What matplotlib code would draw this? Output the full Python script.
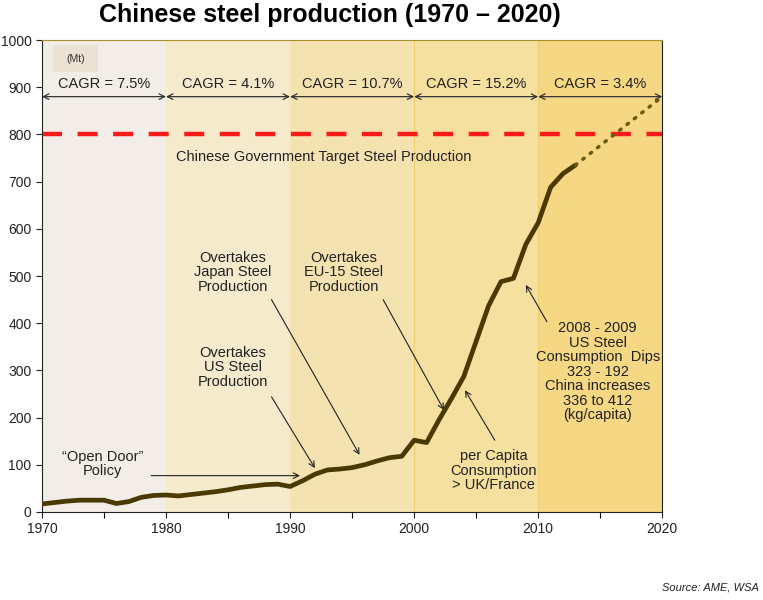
import matplotlib
matplotlib.use('Agg')
import matplotlib.pyplot as plt
from matplotlib.ticker import MultipleLocator

plt.rcParams['font.family'] = ['Liberation Sans', 'DejaVu Sans']

# data (Mt)
years = list(range(1970, 2014))
prod = [17, 20, 23, 25, 25, 25, 18, 22, 31, 35,
        36, 34, 37, 40, 43, 47, 52, 55, 58, 59,
        54, 66, 80, 89, 91, 94, 100, 108, 115, 118,
        152, 147, 195, 240, 287, 362, 437, 488, 495, 567,
        613, 688, 717, 735]
proj_years = [2013, 2020]
proj_vals = [735, 880]
target = 800

decades = [(1970, 1980), (1980, 1990), (1990, 2000), (2000, 2010), (2010, 2020)]
decade_cols = ['#f2ede6', '#f5eacc', '#f4e3b0', '#f6e0a0', '#f5d784']
cagr = ['7.5%', '4.1%', '10.7%', '15.2%', '3.4%']

fig = plt.figure(figsize=(7.63, 6.0), dpi=100)
ax = fig.add_axes([0.055, 0.1467, 0.813, 0.7866])

for (a, b), c in zip(decades, decade_cols):
    ax.axvspan(a, b, color=c, lw=0, zorder=0)
for x in [2000, 2010]:
    ax.axvline(x, color='#f0cf70', lw=0.8, zorder=0.5)

# (Mt) box
ax.add_patch(plt.Rectangle((1970.9, 932), 3.6, 57, color='#ebe2d3', lw=0, zorder=1))
ax.text(1972.7, 960, '(Mt)', ha='center', va='center', fontsize=7.5, color='#333333')

ax.axhline(target, color='#ff1a1a', lw=3.2, dashes=(4.5, 3.5), zorder=2)
ax.text(1992.7, 752, 'Chinese Government Target Steel Production', ha='center', va='center',
        fontsize=10.5, color='#222222')

for (a, b), g in zip(decades, cagr):
    ax.annotate('', xy=(a, 880), xytext=(b, 880),
                arrowprops=dict(arrowstyle='<->', color='#333333', lw=0.9,
                                shrinkA=0, shrinkB=0), zorder=3)
    ax.text((a + b) / 2, 907, 'CAGR = ' + g, ha='center', va='center', fontsize=10.5, color='#222222')

ax.plot(years, prod, color='#4a3a02', lw=3.4, solid_capstyle='round', solid_joinstyle='round', zorder=4)
ax.plot(proj_years, proj_vals, color='#6b5a12', lw=2.5, ls=(0, (0.5, 2.2)), dash_capstyle='round', zorder=4)

arr = dict(arrowstyle='->', color='#222222', lw=0.8, shrinkA=0, shrinkB=0)
ax.annotate('', xy=(1995.6, 121), xytext=(1988.5, 450), arrowprops=arr)
ax.text(1985.4, 508, 'Overtakes\nJapan Steel\nProduction', ha='center', va='center', fontsize=10.5,
        linespacing=1.05, color='#222222')
ax.annotate('', xy=(1992.0, 93), xytext=(1988.5, 244), arrowprops=arr)
ax.text(1985.4, 307, 'Overtakes\nUS Steel\nProduction', ha='center', va='center', fontsize=10.5,
        linespacing=1.05, color='#222222')
ax.annotate('', xy=(2002.4, 216), xytext=(1997.5, 450), arrowprops=arr)
ax.text(1994.3, 508, 'Overtakes\nEU-15 Steel\nProduction', ha='center', va='center', fontsize=10.5,
        linespacing=1.05, color='#222222')
ax.annotate('', xy=(2004.1, 258), xytext=(2006.5, 152), arrowprops=arr)
ax.text(2006.4, 87, 'per Capita\nConsumption\n> UK/France', ha='center', va='center', fontsize=10.5,
        linespacing=1.05, color='#222222')
ax.annotate('', xy=(2009.0, 481), xytext=(2010.7, 403), arrowprops=arr)
ax.text(2014.8, 297, '2008 - 2009\nUS Steel\nConsumption  Dips\n323 - 192\nChina increases\n336 to 412\n(kg/capita)',
        ha='center', va='center', fontsize=10.5, linespacing=1.05, color='#222222')
ax.annotate('', xy=(1990.8, 77), xytext=(1978.8, 77), arrowprops=arr)
ax.text(1974.9, 102, '\u201cOpen Door\u201d\nPolicy', ha='center', va='center', fontsize=10.5,
        linespacing=1.05, color='#222222')

ax.set_xlim(1970, 2020)
ax.set_ylim(0, 1000)
ax.xaxis.set_major_locator(MultipleLocator(10))
ax.xaxis.set_minor_locator(MultipleLocator(5))
ax.yaxis.set_major_locator(MultipleLocator(100))
ax.tick_params(axis='both', labelsize=10, direction='out', length=4, width=0.8, colors='#222222')
ax.tick_params(axis='x', which='minor', length=4, width=0.8)
for s in ['left', 'bottom', 'right']:
    ax.spines[s].set_color('#222222')
ax.spines['top'].set_color('#a8902a')
ax.spines['top'].set_linewidth(0.8)

fig.text(0.432, 0.975, 'Chinese steel production (1970 \u2013 2020)', ha='center', va='center',
         fontsize=18, fontweight='bold', family=['Liberation Sans Narrow', 'Liberation Sans'])
fig.text(0.995, 0.012, 'Source: AME, WSA', ha='right', va='bottom', fontsize=8, style='italic', color='#222222')

fig.savefig('out.png', dpi=100)
